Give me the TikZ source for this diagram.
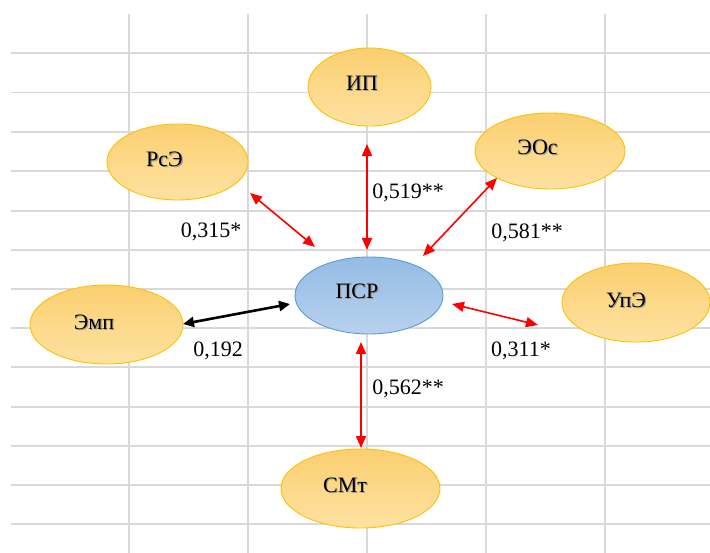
\documentclass[tikz,border=0pt]{standalone}
\usepackage{fontspec}
\setmainfont{Liberation Serif}
\usetikzlibrary{arrows.meta,shapes.geometric}
\definecolor{gridc}{HTML}{D9D9D9}
\definecolor{orTop}{HTML}{FBCF70}
\definecolor{orBot}{HTML}{FEE2A2}
\definecolor{orLine}{HTML}{FFC000}
\definecolor{blTop}{HTML}{95BCE5}
\definecolor{blBot}{HTML}{B8D1EE}
\definecolor{blLine}{HTML}{5B9BD5}
\definecolor{arrRed}{HTML}{FF0000}
\newcommand\shtxt[1]{\rlap{\hspace{1.1pt}\raisebox{-1.1pt}{\textcolor{black!40}{#1}}}#1}
\tikzset{
  oval/.style={ellipse, draw=orLine, line width=0.9pt, top color=orTop, bottom color=orBot, inner sep=0pt},
  ovalblue/.style={ellipse, draw=blLine, line width=0.9pt, top color=blTop, bottom color=blBot, inner sep=0pt},
  txt/.style={font=\fontsize{22}{26}\selectfont, inner sep=0pt, text=black},
  gridline/.style={draw=gridc, line width=1.6pt},
  redarr/.style={draw=arrRed, line width=1.6pt, {Triangle[length=12pt,width=10pt]}-{Triangle[length=12pt,width=10pt]}},
  blackarr/.style={draw=black, line width=2.6pt, {Triangle[length=11pt,width=10pt]}-{Triangle[length=11pt,width=10pt]}}
}
\begin{document}
\begin{tikzpicture}[x=1pt,y=-1pt]
\useasboundingbox (0,0) rectangle (710,553);
\fill[white] (0,0) rectangle (710,553);
% grid
\foreach \yy in {53,92.5,132,171,211,250,289,328,367,407,446,485,524}
  \draw[gridline] (11,\yy) -- (710,\yy);
\foreach \xx in {129,248,367,486,605}
  \draw[gridline] (\xx,14) -- (\xx,553);
% ellipses
\node[oval, minimum width=123pt, minimum height=78pt] (ip) at (369.5,87) {};
\node[oval, minimum width=141pt, minimum height=76pt] (rse) at (177.5,162) {};
\node[oval, minimum width=150pt, minimum height=76pt] (eos) at (550,151) {};
\node[oval, minimum width=153pt, minimum height=79pt] (emp) at (106.5,324.5) {};
\node[ovalblue, minimum width=148pt, minimum height=77pt] (psr) at (369,295.5) {};
\node[oval, minimum width=148pt, minimum height=79pt] (upe) at (636,302.5) {};
\node[oval, minimum width=159pt, minimum height=79pt] (smt) at (360.5,488.5) {};
% texts
\node[txt] (ipt) at (362,84) {\shtxt{ИП}};
\node[txt] (rset) at (164.5,160) {\shtxt{РсЭ}};
\node[txt] (eost) at (537.5,148) {\shtxt{ЭОс}};
\node[txt] (empt) at (94,323) {\shtxt{Эмп}};
\node[txt] (psrt) at (357,292) {\shtxt{ПСР}};
\node[txt] (upet) at (626,301) {\shtxt{УпЭ}};
\node[txt] (smtt) at (345,486) {\shtxt{СМт}};
% arrow end points
\coordinate (a1s) at (367,144); \coordinate (a1e) at (367,250);
\coordinate (a2s) at (250,193); \coordinate (a2e) at (315,247);
\coordinate (a3s) at (497,178); \coordinate (a3e) at (423,256);
\coordinate (a4s) at (183,324); \coordinate (a4e) at (290,304);
\coordinate (a5s) at (452,304); \coordinate (a5e) at (538,325);
\coordinate (a6s) at (361,342); \coordinate (a6e) at (361,448);
\draw[redarr] (a1s) -- (a1e);
\draw[redarr] (a2s) -- (a2e);
\draw[redarr] (a3s) -- (a3e);
\draw[blackarr] (a4s) -- (a4e);
\draw[redarr] (a5s) -- (a5e);
\draw[redarr] (a6s) -- (a6e);
% correlation labels
\node[txt] (l1) at (408,193) {0,519**};
\node[txt] (l2) at (211,232) {0,315*};
\node[txt] (l3) at (527,233) {0,581**};
\node[txt] (l4) at (218,351) {0,192};
\node[txt] (l5) at (521,351) {0,311*};
\node[txt] (l6) at (408,389) {0,562**};
\end{tikzpicture}
\end{document}
